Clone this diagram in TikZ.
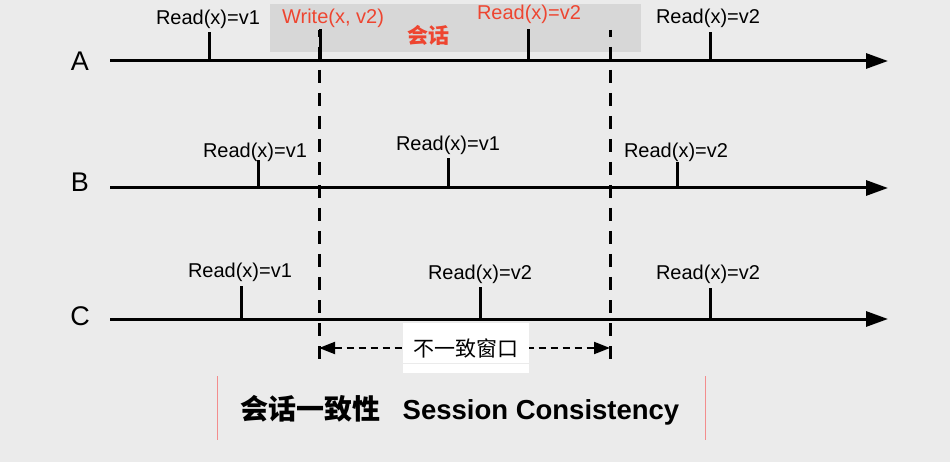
\documentclass[tikz,border=0pt]{standalone}
\usepackage{fontspec}
\setmainfont{Liberation Sans}
\newfontfamily\cjkfont{Noto Sans CJK SC}
\usetikzlibrary{arrows.meta,positioning}
\definecolor{bgcol}{HTML}{EBEBEB}
\definecolor{sesscol}{HTML}{D7D7D7}
\definecolor{redtxt}{HTML}{EE4530}

\begin{document}
\begin{tikzpicture}[x=1pt,y=-1pt,
	timeline/.style={line width=3pt,-{Triangle[length=22pt,width=15pt]}},
	evtick/.style={line width=3pt},
	oplabel/.style={inner sep=0pt,font=\fontsize{20}{24}\selectfont},
	proclabel/.style={inner sep=0pt,font=\fontsize{27}{30}\selectfont},
	winline/.style={line width=3pt,dash pattern=on 13pt off 10pt,dash phase=6pt},
	winarrow/.style={line width=2pt,dash pattern=on 7pt off 5pt,{Triangle[length=16pt,width=12pt]}-{Triangle[length=16pt,width=12pt]}},
	faint/.style={line width=0.8pt}]
\fill [bgcol] (0,0) rectangle (950,462);
\useasboundingbox (0,0) rectangle (950,462);
\fill [sesscol] (270,4) rectangle (641,52);
\foreach \p/\y/\ly in {A/61/61,B/188/182,C/319/316}{
	\node [proclabel] (lab\p) at (80,\ly) {\p};
	\coordinate (\p0) at (110,\y);
	\coordinate (\p1) at (888,\y);
	\draw [timeline] (\p0) -- (\p1);
}
\foreach \n/\x/\y/\t/\lx/\ly/\v in {a1/209/61/32/208/19/v1,a4/710/61/32/708/18/v2,
		b1/258/188/160/255/152/v1,b2/448/188/158/448/145/v1,b3/677/188/162/676/152/v2,
		c1/241/319/286/240/272/v1,c2/480/319/287/480/274/v2,c3/710/319/288/708/274/v2}{
	\coordinate (\n) at (\x,\y);
	\coordinate (\n t) at (\x,\t);
	\draw [evtick] (\n) -- (\n t);
	\node [oplabel] (\n lab) at (\lx,\ly) {Read(x)=\v};
}
\coordinate (a2) at (320,61);
\coordinate (a2t) at (320,29);
\draw [evtick] (a2) -- (a2t);
\node [oplabel,text=redtxt] (a2lab) at (333,18) {Write(x, v2)};
\coordinate (a3) at (528,61);
\coordinate (a3t) at (528,29);
\draw [evtick] (a3) -- (a3t);
\node [oplabel,text=redtxt] (a3lab) at (529,14) {Read(x)=v2};
\node [inner sep=0pt,text=redtxt,font=\cjkfont\bfseries\fontsize{21}{24}\selectfont] (sess) at (428,35) {会话};
\foreach \w/\x in {wl/319,wr/610}{
	\coordinate (\w0) at (\x,30);
	\coordinate (\w1) at (\x,366);
	\draw [winline] (\w0) -- (\w1);
}
\coordinate (win0) at (319,348);
\coordinate (win1) at (610,348);
\draw [winarrow] (win0) -- (win1);
\node [fill=white,minimum width=126pt,minimum height=50pt,inner sep=0pt,font=\cjkfont\fontsize{21}{24}\selectfont] (winlab) at (466,348) {不一致窗口};
\draw [faint,color=black!8] (230,363) -- (690,363);
\draw [faint,color=red!40!bgcol] (217,376) -- (217,440);
\draw [faint,color=red!40!bgcol] (705,376) -- (705,440);
\node [inner sep=0pt,font=\bfseries\fontsize{27.5}{32}\selectfont] (title) at (460,410) {{\cjkfont\bfseries\fontsize{28}{32}\selectfont 会话一致性}\hspace{22pt}Session Consistency};
\end{tikzpicture}
\end{document}
